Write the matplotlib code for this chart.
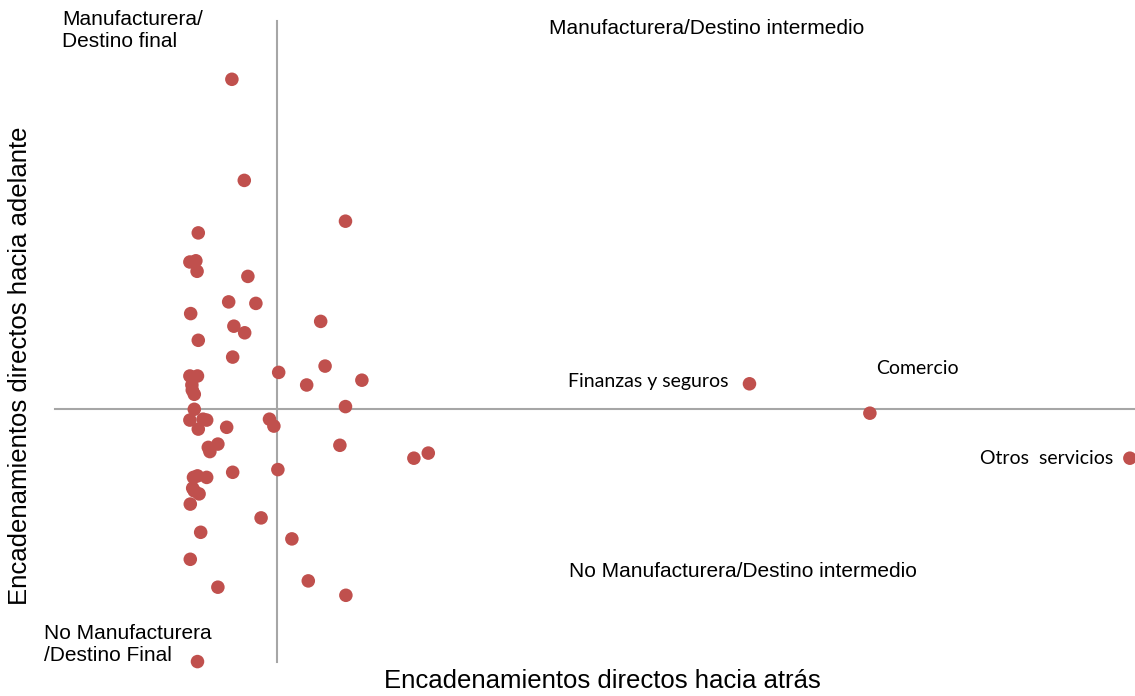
import matplotlib.pyplot as plt

# encadenamientos hacia atras (x) y hacia adelante (y), promedio = 1
atras = [0.888, 0.919, 1.172, 0.804, 0.783, 0.798, 0.801, 0.928, 0.880, 0.948,
         0.785, 1.110, 0.893, 0.920, 0.804, 0.890, 1.121, 1.005, 0.783, 0.802,
         1.213, 1.075, 0.788, 0.789, 0.794, 1.172, 0.794, 0.783, 0.825, 0.816,
         0.804, 0.875, 0.982, 0.993, 1.158, 0.853, 0.829, 0.833, 1.343, 1.379,
         0.890, 1.003, 0.792, 0.802, 0.825, 0.790, 0.794, 0.806, 0.784, 0.961,
         0.810, 1.038, 0.784, 1.079, 0.853, 1.173, 0.802,
         2.182, 2.483, 3.133]
adelante = [2.098, 1.761, 1.625, 1.586, 1.489, 1.493, 1.458, 1.441, 1.356, 1.351,
            1.317, 1.291, 1.275, 1.253, 1.228, 1.172, 1.142, 1.121, 1.109, 1.109,
            1.095, 1.079, 1.079, 1.062, 1.048, 1.007, 0.998, 0.962, 0.962, 0.965,
            0.932, 0.938, 0.965, 0.942, 0.878, 0.882, 0.871, 0.857, 0.835, 0.852,
            0.788, 0.797, 0.771, 0.776, 0.771, 0.735, 0.726, 0.716, 0.682, 0.636,
            0.588, 0.566, 0.498, 0.426, 0.405, 0.378, 0.157,
            1.083, 0.985, 0.835]

promedio = 1.0

W, H = 1135, 696
fig = plt.figure(figsize=(W / 100, H / 100), dpi=100)
ax = fig.add_axes([0, 0, 1, 1])
ax.set_xlim(0.3083, 3.1458)
ax.set_ylim(0.0423, 2.3623)
ax.axis('off')

gris = '#a6a6a6'
ax.plot([0.446, 3.146], [promedio, promedio], color=gris, lw=1.5, zorder=1)
ax.plot([promedio, promedio], [0.156, 2.292], color=gris, lw=1.5, zorder=1)

ax.scatter(atras, adelante, s=95, color='#c0504d', edgecolors='none', zorder=3)


def px(x, y):
    # pixeles de la imagen -> fraccion de ejes
    return x / W, 1 - y / H


arial = 'Liberation Sans'
calibri = 'Lato'

ax.text(*px(62, 10), 'Manufacturera/\nDestino final', transform=ax.transAxes,
        ha='left', va='top', fontsize=15, family=arial, linespacing=1.2)
ax.text(*px(549, 34), 'Manufacturera/Destino intermedio', transform=ax.transAxes,
        ha='left', va='baseline', fontsize=15, family=arial)
ax.text(*px(569, 577), 'No Manufacturera/Destino intermedio', transform=ax.transAxes,
        ha='left', va='baseline', fontsize=15, family=arial)
ax.text(*px(44, 624), 'No Manufacturera\n/Destino Final', transform=ax.transAxes,
        ha='left', va='top', fontsize=15, family=arial, linespacing=1.2)

ax.text(*px(568, 387), 'Finanzas y seguros', transform=ax.transAxes,
        ha='left', va='baseline', fontsize=14, family=calibri)
ax.text(*px(876, 374), 'Comercio', transform=ax.transAxes,
        ha='left', va='baseline', fontsize=14, family=calibri)
ax.text(*px(1113, 464), 'Otros  servicios', transform=ax.transAxes,
        ha='right', va='baseline', fontsize=14, family=calibri)

ax.text(*px(602, 688), 'Encadenamientos directos hacia atrás', transform=ax.transAxes,
        ha='center', va='baseline', fontsize=18.5, family=arial)
ax.text(*px(20, 366), 'Encadenamientos directos hacia adelante', transform=ax.transAxes,
        ha='center', va='center', rotation=90, fontsize=18.5, family=arial)

fig.savefig('out.png', dpi=100, facecolor='white')
